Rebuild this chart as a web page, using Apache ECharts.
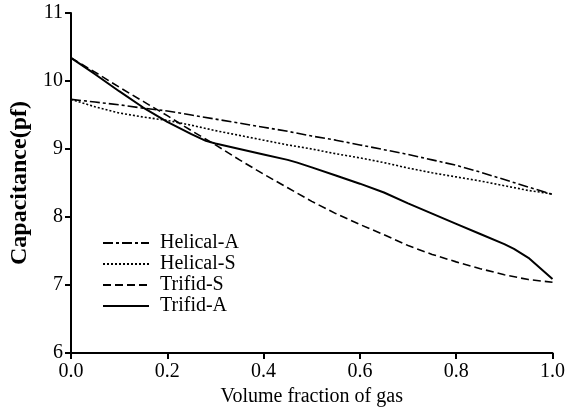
<!DOCTYPE html>
<html>
<head>
<meta charset="utf-8">
<script src="https://cdn.jsdelivr.net/npm/echarts@6/dist/echarts.min.js"></script>
<style>html,body{margin:0;padding:0;background:#fff;}#c{width:568px;height:412px;}</style>
</head>
<body>
<div id="c"></div>
<script>
const xs = [0,0.05,0.1,0.15,0.2,0.25,0.3,0.35,0.4,0.45,0.5,0.55,0.6,0.65,0.7,0.75,0.8,0.85,0.9,0.95,1.0];
const helicalA = [9.73,9.69,9.65,9.60,9.56,9.50,9.44,9.38,9.32,9.26,9.19,9.13,9.06,8.99,8.92,8.84,8.76,8.66,8.55,8.44,8.33];
const helicalS = [9.73,9.62,9.53,9.47,9.42,9.35,9.27,9.20,9.13,9.06,9.00,8.93,8.87,8.80,8.72,8.65,8.59,8.53,8.46,8.39,8.34];
const trifidS = [10.34,10.13,9.91,9.70,9.49,9.27,9.06,8.84,8.63,8.43,8.23,8.05,7.89,7.74,7.58,7.45,7.34,7.24,7.15,7.08,7.04];
const trifidAX = [0,0.05,0.1,0.15,0.2,0.25,0.28,0.3,0.35,0.4,0.45,0.47,0.5,0.55,0.6,0.65,0.7,0.75,0.8,0.85,0.9,0.92,0.95,1.0];
const trifidA = [10.34,10.10,9.85,9.61,9.40,9.22,9.12,9.08,9.00,8.92,8.84,8.80,8.73,8.61,8.49,8.36,8.20,8.05,7.90,7.75,7.60,7.53,7.40,7.09];
const names = ['Helical-A','Helical-S','Trifid-S','Trifid-A'];
const yTicks = [6,7,8,9,10,11];
const xTicks = [0,0.2,0.4,0.6,0.8,1.0];

const pair = (x, y) => x.map((v, i) => [v, y[i]]);
const font = "'Liberation Serif','Times New Roman',serif";
const mk = (name, data, type, width) => ({
  name, type: 'line', data, symbol: 'none', smooth: false,
  lineStyle: { color: '#000', width, type },
  itemStyle: { color: '#000' }
});

const chart = echarts.init(document.getElementById('c'));
chart.setOption({
  animation: false,
  backgroundColor: '#fff',
  grid: { left: 71, right: 15, top: 13, bottom: 59 },
  legend: {
    orient: 'vertical', left: 102, top: 233, padding: 0,
    itemWidth: 46, itemHeight: 14, itemGap: 1,
    itemStyle: { opacity: 0 },
    lineStyle: { width: 2 },
    textStyle: { fontFamily: font, fontSize: 20, color: '#000', padding: [0,0,0,6] },
    data: names
  },
  xAxis: {
    type: 'value', min: 0, max: 1, interval: 0.2,
    name: 'Volume fraction of gas', nameLocation: 'middle', nameGap: 34,
    nameTextStyle: { fontFamily: font, fontSize: 20, color: '#000' },
    axisLine: { show: true, lineStyle: { color: '#000', width: 2 } },
    axisTick: { show: true, length: 6, lineStyle: { color: '#000', width: 2 } },
    axisLabel: { fontFamily: font, fontSize: 20, color: '#000', margin: 9, formatter: v => v.toFixed(1) },
    splitLine: { show: false }
  },
  yAxis: {
    type: 'value', min: 6, max: 11, interval: 1,
    name: 'Capacitance(pf)', nameLocation: 'middle', nameGap: 36, nameRotate: 90,
    nameTextStyle: { fontFamily: font, fontSize: 24, fontWeight: 'bold', color: '#000' },
    axisLine: { show: true, lineStyle: { color: '#000', width: 2 } },
    axisTick: { show: true, length: 6, lineStyle: { color: '#000', width: 2 } },
    axisLabel: { fontFamily: font, fontSize: 20, color: '#000', margin: 8 },
    splitLine: { show: false }
  },
  series: [
    mk(names[0], pair(xs, helicalA), [10,3,3,3], 1.6),
    mk(names[1], pair(xs, helicalS), [2,2], 1.6),
    mk(names[2], pair(xs, trifidS), [8,4], 1.6),
    mk(names[3], pair(trifidAX, trifidA), 'solid', 2)
  ]
});
</script>
</body>
</html>
